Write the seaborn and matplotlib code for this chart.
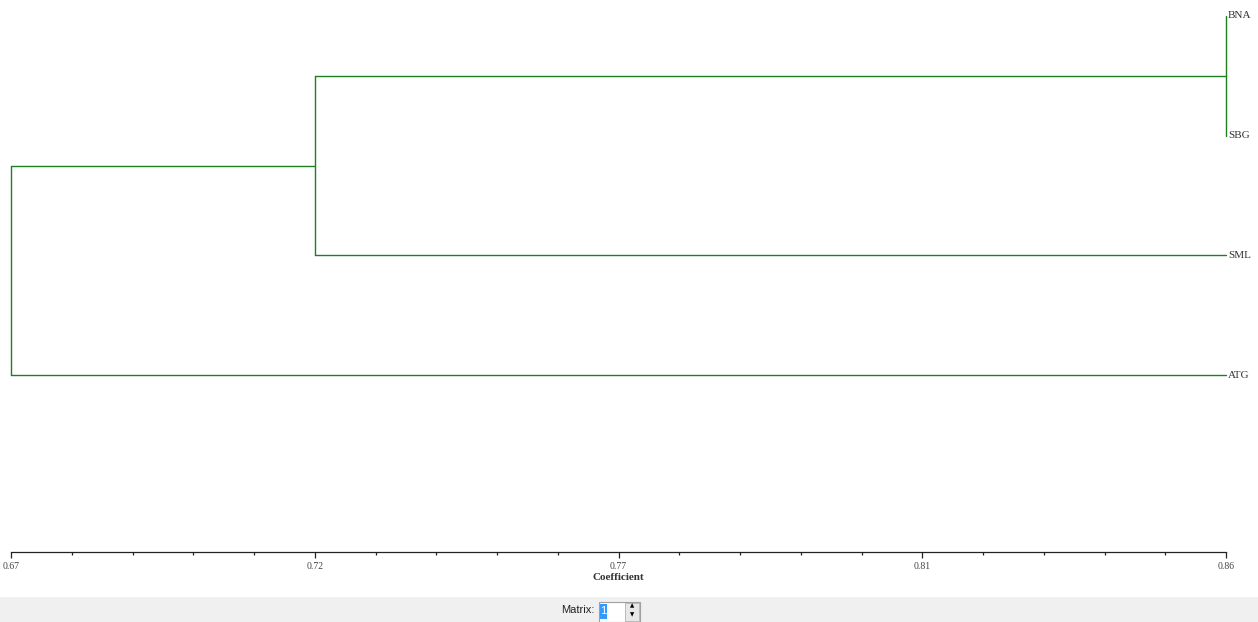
import numpy as np
import pandas as pd
import seaborn as sns
import matplotlib.pyplot as plt
import matplotlib.transforms as mtransforms
from matplotlib.patches import Rectangle

# leaves, top to bottom
leaves = ["BNA", "SBG", "SML", "ATG"]
# merges: (child a, child b, coefficient); ids >= len(leaves) are earlier merges
merges = [(0, 1, 0.86), (4, 2, 0.7175), (5, 3, 0.67)]
major_ticks = [0.67, 0.7175, 0.765, 0.8125, 0.86]
tick_labels = ["0.67", "0.72", "0.77", "0.81", "0.86"]

W, H = 1258, 622
sns.set_theme(style="white")
plt.rcParams["font.family"] = ["Liberation Serif", "DejaVu Serif"]

fig = plt.figure(figsize=(W / 100, H / 100), dpi=100)
axis_px = 552          # pixel row of the scale line
ax = fig.add_axes([0, (H - axis_px) / H, 1, axis_px / H])

# pixel mapping of the coefficient scale
x0_px, x1_px = 11, 1226
upp = (major_ticks[-1] - major_ticks[0]) / (x1_px - x0_px)
ax.set_xlim(major_ticks[0] - x0_px * upp, major_ticks[-1] + (W - x1_px) * upp)
leaf_top, leaf_step = 16, 119.7
ax.set_ylim((axis_px - leaf_top) / leaf_step, -leaf_top / leaf_step)

# build segments of the dendrogram
nodes = {i: (major_ticks[-1], float(i)) for i in range(len(leaves))}
rows = []
seg = 0
for k, (a, b, s) in enumerate(merges):
    (xa, ya), (xb, yb) = nodes[a], nodes[b]
    for xc, yc in [(xa, ya), (xb, yb)]:
        if xc != s:
            rows += [(seg, s, yc), (seg, xc, yc)]
            seg += 1
    rows += [(seg, s, ya), (seg, s, yb)]
    seg += 1
    nodes[len(leaves) + k] = (s, (ya + yb) / 2)
df = pd.DataFrame(rows, columns=["seg", "x", "y"])

sns.lineplot(data=df, x="x", y="y", units="seg", estimator=None, sort=False,
             color="#1f7f1f", lw=1.0, ax=ax, legend=False)

for i, name in enumerate(leaves):
    ax.text(major_ticks[-1] + 2 * upp, i, name, fontsize=8, va="center",
            ha="left", color="#333333")

# scale axis
for sp in ["top", "left", "right"]:
    ax.spines[sp].set_visible(False)
ax.spines["bottom"].set_bounds(major_ticks[0], major_ticks[-1])
ax.spines["bottom"].set_color("#222222")
ax.spines["bottom"].set_linewidth(0.9)
ax.set_xticks(major_ticks)
ax.set_xticklabels(tick_labels)
minor = []
for a, b in zip(major_ticks[:-1], major_ticks[1:]):
    minor += list(np.linspace(a, b, 6)[1:-1])
ax.set_xticks(minor, minor=True)
ax.tick_params(axis="x", which="major", bottom=True, length=4.5, width=0.9,
               direction="out", labelsize=7, pad=2.5, colors="#222222",
               labelcolor="#444444")
ax.tick_params(axis="x", which="minor", bottom=True, length=2.2, width=0.9,
               direction="out", colors="#222222")
ax.set_yticks([])
ax.set_xlabel("")
ax.set_ylabel("")

trans = mtransforms.blended_transform_factory(ax.transData, fig.transFigure)
ax.text(major_ticks[2], (H - 578) / H, "Coefficient", transform=trans,
        ha="center", va="center", fontsize=8, fontweight="bold", color="#333333")

# bottom status bar with matrix spinner
fig.patches.append(Rectangle((0, 0), 1, 25 / H, transform=fig.transFigure,
                             facecolor="#f0f0f0", edgecolor="none", zorder=0))
fig.text(594 / W, (H - 610) / H, "Matrix:", ha="right", va="center",
         fontsize=8, family="Liberation Sans", color="#222222")
fig.patches.append(Rectangle((599 / W, 0), 41 / W, 20 / H, transform=fig.transFigure,
                             facecolor="white", edgecolor="#a0a0a0", lw=0.8))
fig.patches.append(Rectangle((600 / W, 3 / H), 7 / W, 15 / H, transform=fig.transFigure,
                             facecolor="#3399ff", edgecolor="none"))
fig.text(603.5 / W, (H - 611) / H, "1", ha="center", va="center", fontsize=8,
         family="Liberation Sans", color="white")
fig.patches.append(Rectangle((625 / W, 1 / H), 14 / W, 18 / H, transform=fig.transFigure,
                             facecolor="#e8e8e8", edgecolor="#b0b0b0", lw=0.6))
fig.text(632 / W, (H - 606) / H, "▲", ha="center", va="center", fontsize=4,
         family="DejaVu Sans", color="black")
fig.text(632 / W, (H - 615) / H, "▼", ha="center", va="center", fontsize=4,
         family="DejaVu Sans", color="black")

fig.savefig("out.png", dpi=100)
